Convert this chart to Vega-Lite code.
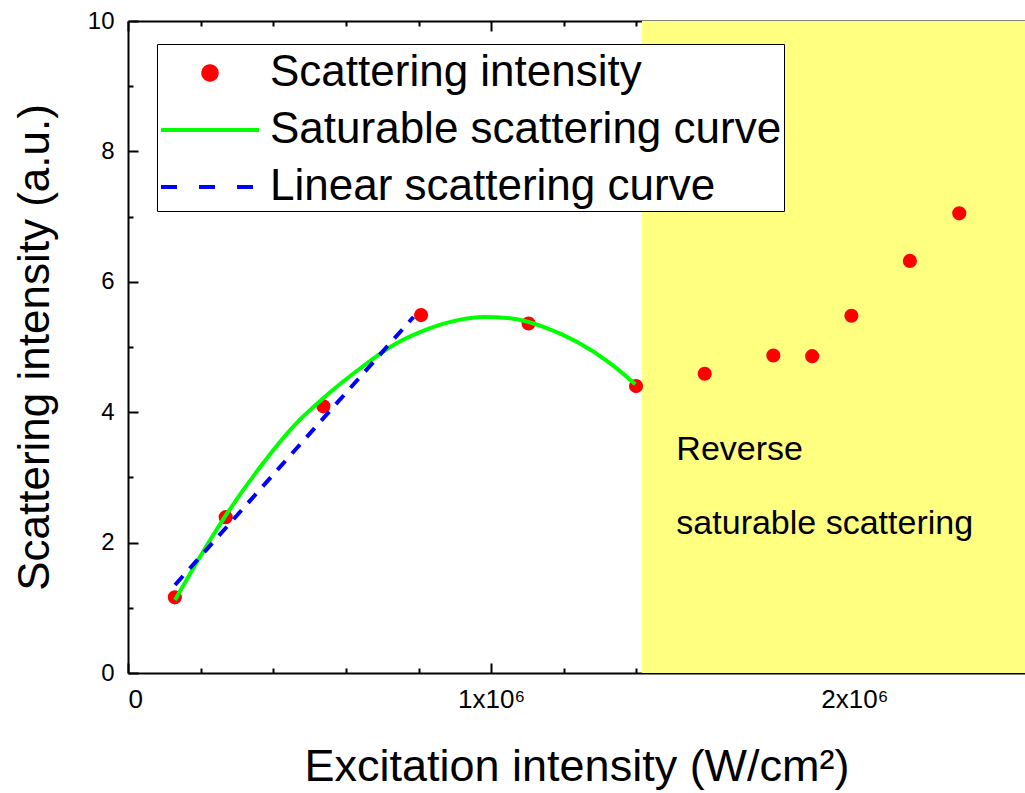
{
  "$schema": "https://vega.github.io/schema/vega-lite/v6.json",
  "width": 897,
  "height": 652,
  "autosize": {"type": "none"},
  "padding": {"left": 128, "top": 21, "right": 0, "bottom": 120},
  "config": {
    "view": {"stroke": null},
    "font": "Liberation Sans",
    "axis": {"grid": false, "domainColor": "black", "domainWidth": 2, "tickColor": "black", "tickWidth": 2, "labelColor": "black", "titleColor": "black", "labelFont": "Liberation Sans", "titleFont": "Liberation Sans", "titleFontWeight": "normal"},
    "legend": {
      "orient": "none", "legendX": 29, "legendY": 23,
      "labelFontSize": 44, "labelFont": "Liberation Sans", "labelColor": "black", "labelLimit": 0,
      "strokeColor": "black", "fillColor": "white", "padding": 2, "rowPadding": 8,
      "symbolSize": 180, "symbolOffset": 0, "labelOffset": 9, "symbolStrokeWidth": 4
    }
  },
  "datasets": {
    "region": [{"xs": 1415000, "xe": 2470000, "ys": 0, "ye": 10}],
    "measured": [
      {"x": 129000, "y": 1.16, "series": "Scattering intensity"},
      {"x": 269000, "y": 2.39, "series": "Scattering intensity"},
      {"x": 538000, "y": 4.09, "series": "Scattering intensity"},
      {"x": 807000, "y": 5.49, "series": "Scattering intensity"},
      {"x": 1103000, "y": 5.36, "series": "Scattering intensity"},
      {"x": 1399000, "y": 4.40, "series": "Scattering intensity"},
      {"x": 1588000, "y": 4.59, "series": "Scattering intensity"},
      {"x": 1777000, "y": 4.87, "series": "Scattering intensity"},
      {"x": 1884000, "y": 4.86, "series": "Scattering intensity"},
      {"x": 1992000, "y": 5.48, "series": "Scattering intensity"},
      {"x": 2153000, "y": 6.32, "series": "Scattering intensity"},
      {"x": 2289000, "y": 7.05, "series": "Scattering intensity"}
    ],
    "saturable": [
      {"x": 129500, "y": 1.12, "series": "Saturable scattering curve"},
      {"x": 198000, "y": 1.78, "series": "Saturable scattering curve"},
      {"x": 272000, "y": 2.44, "series": "Saturable scattering curve"},
      {"x": 364000, "y": 3.16, "series": "Saturable scattering curve"},
      {"x": 455000, "y": 3.78, "series": "Saturable scattering curve"},
      {"x": 547000, "y": 4.26, "series": "Saturable scattering curve"},
      {"x": 639000, "y": 4.67, "series": "Saturable scattering curve"},
      {"x": 731000, "y": 5.03, "series": "Saturable scattering curve"},
      {"x": 823000, "y": 5.27, "series": "Saturable scattering curve"},
      {"x": 915000, "y": 5.42, "series": "Saturable scattering curve"},
      {"x": 979000, "y": 5.46, "series": "Saturable scattering curve"},
      {"x": 1052000, "y": 5.44, "series": "Saturable scattering curve"},
      {"x": 1144000, "y": 5.31, "series": "Saturable scattering curve"},
      {"x": 1236000, "y": 5.08, "series": "Saturable scattering curve"},
      {"x": 1328000, "y": 4.75, "series": "Saturable scattering curve"},
      {"x": 1397000, "y": 4.43, "series": "Saturable scattering curve"}
    ],
    "linear": [
      {"x": 129500, "y": 1.35, "series": "Linear scattering curve"},
      {"x": 786000, "y": 5.46, "series": "Linear scattering curve"}
    ],
    "notes": [
      {"x": 1510000, "y": 3.42, "label": "Reverse"},
      {"x": 1510000, "y": 2.285, "label": "saturable scattering"}
    ]
  },
  "resolve": {"scale": {"x": "shared", "y": "shared", "color": "shared"}, "axis": {"x": "independent", "y": "independent"}},
  "layer": [
    {
      "data": {"name": "region"},
      "mark": {"type": "rect", "color": "#ffff80"},
      "encoding": {
        "x": {"field": "xs", "type": "quantitative", "scale": {"domain": [0, 2470000], "nice": false, "zero": false},
          "axis": {"orient": "bottom", "values": [0, 1000000, 2000000], "ticks": false, "domain": true, "labelFontSize": 26, "labelPadding": 13,
            "labelExpr": "datum.value === 0 ? '0' : (datum.value / 1000000) + 'x10⁶'",
            "title": "Excitation intensity (W/cm²)", "titleFontSize": 45, "titlePadding": 32}},
        "x2": {"field": "xe"},
        "y": {"field": "ys", "type": "quantitative", "scale": {"domain": [0, 10], "nice": false, "zero": false},
          "axis": {"orient": "left", "values": [0, 2, 4, 6, 8, 10], "ticks": false, "domain": true, "labelFontSize": 24, "labelPadding": 14,
            "title": "Scattering intensity (a.u.)", "titleFontSize": 44, "titlePadding": 30}},
        "y2": {"field": "ye"}
      }
    },
    {
      "data": {"name": "measured"},
      "mark": {"type": "point", "filled": true, "opacity": 1, "size": 200, "shape": "circle"},
      "encoding": {
        "x": {"field": "x", "type": "quantitative",
          "axis": {"orient": "bottom", "values": [0, 1000000, 2000000], "tickSize": -10, "labels": false, "domain": false, "title": null}},
        "y": {"field": "y", "type": "quantitative",
          "axis": {"orient": "left", "values": [0, 2, 4, 6, 8, 10], "tickSize": -10, "labels": false, "domain": false, "title": null}},
        "color": {"field": "series", "type": "nominal",
          "scale": {"domain": ["Scattering intensity", "Saturable scattering curve", "Linear scattering curve"], "range": ["#ff0000", "#00ff00", "#0000ff"]},
          "legend": {
            "title": null,
            "encode": {
              "symbols": {"update": {
                "shape": {"signal": "datum.index === 0 ? 'circle' : 'stroke'"},
                "size": {"signal": "datum.index === 0 ? 180 : 9604"},
                "fill": {"signal": "datum.index === 0 ? '#ff0000' : 'transparent'"},
                "stroke": {"signal": "datum.index === 0 ? 'transparent' : (datum.index === 2 ? '#0000ff' : '#00ff00')"},
                "strokeDash": {"signal": "datum.index === 2 ? [16, 22] : [1, 0]"},
                "strokeWidth": {"value": 4},
                "opacity": {"value": 1},
                "y": {"value": 27}
              }},
              "labels": {"update": {"y": {"value": 27}}}
            }
          }}
      }
    },
    {
      "data": {"name": "saturable"},
      "mark": {"type": "line", "strokeWidth": 4, "interpolate": "monotone"},
      "encoding": {
        "x": {"field": "x", "type": "quantitative",
          "axis": {"orient": "bottom", "values": [200000, 400000, 600000, 800000, 1200000, 1400000, 1600000, 1800000, 2200000, 2400000], "tickSize": -5, "labels": false, "domain": false, "title": null}},
        "y": {"field": "y", "type": "quantitative",
          "axis": {"orient": "left", "values": [1, 3, 5, 7, 9], "tickSize": -5, "labels": false, "domain": false, "title": null}},
        "color": {"field": "series", "type": "nominal",
          "legend": {
            "title": null,
            "encode": {
              "symbols": {"update": {
                "shape": {"signal": "datum.index === 0 ? 'circle' : 'stroke'"},
                "size": {"signal": "datum.index === 0 ? 180 : 9604"},
                "fill": {"signal": "datum.index === 0 ? '#ff0000' : 'transparent'"},
                "stroke": {"signal": "datum.index === 0 ? 'transparent' : (datum.index === 2 ? '#0000ff' : '#00ff00')"},
                "strokeDash": {"signal": "datum.index === 2 ? [16, 22] : [1, 0]"},
                "strokeWidth": {"value": 4},
                "opacity": {"value": 1},
                "y": {"value": 27}
              }},
              "labels": {"update": {"y": {"value": 27}}}
            }
          }}
      }
    },
    {
      "data": {"name": "linear"},
      "mark": {"type": "line", "strokeWidth": 4, "strokeDash": [12, 10]},
      "encoding": {
        "x": {"field": "x", "type": "quantitative",
          "axis": {"orient": "top", "values": [0, 1000000, 2000000], "tickSize": -10, "labels": false, "domain": true, "title": null}},
        "y": {"field": "y", "type": "quantitative", "axis": null},
        "color": {"field": "series", "type": "nominal",
          "legend": {
            "title": null,
            "encode": {
              "symbols": {"update": {
                "shape": {"signal": "datum.index === 0 ? 'circle' : 'stroke'"},
                "size": {"signal": "datum.index === 0 ? 180 : 9604"},
                "fill": {"signal": "datum.index === 0 ? '#ff0000' : 'transparent'"},
                "stroke": {"signal": "datum.index === 0 ? 'transparent' : (datum.index === 2 ? '#0000ff' : '#00ff00')"},
                "strokeDash": {"signal": "datum.index === 2 ? [16, 22] : [1, 0]"},
                "strokeWidth": {"value": 4},
                "opacity": {"value": 1},
                "y": {"value": 27}
              }},
              "labels": {"update": {"y": {"value": 27}}}
            }
          }}
      }
    },
    {
      "data": {"name": "notes"},
      "mark": {"type": "text", "align": "left", "baseline": "middle", "fontSize": 34, "font": "Liberation Sans", "color": "black"},
      "encoding": {
        "x": {"field": "x", "type": "quantitative",
          "axis": {"orient": "top", "values": [200000, 400000, 600000, 800000, 1200000, 1400000, 1600000, 1800000, 2200000, 2400000], "tickSize": -5, "labels": false, "domain": false, "title": null}},
        "y": {"field": "y", "type": "quantitative", "axis": null},
        "text": {"field": "label"}
      }
    }
  ]
}
